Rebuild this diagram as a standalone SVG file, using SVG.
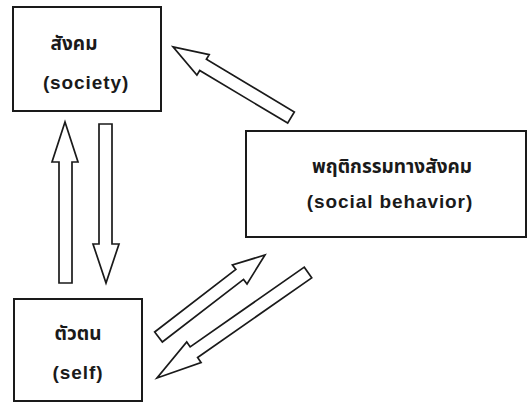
<svg xmlns="http://www.w3.org/2000/svg" width="528" height="403" viewBox="0 0 528 403">
<style>
.box{fill:#fff;stroke:#1a1a1a;stroke-width:2}
.arr{fill:#fff;stroke:#1a1a1a;stroke-width:1.7;stroke-linejoin:miter}
.th{font-family:"Liberation Sans","Noto Sans Thai","Noto Sans",sans-serif;font-weight:bold;font-size:19px;fill:#1a1a1a;text-anchor:middle}
.en{font-family:"Liberation Sans",Arial,sans-serif;font-weight:bold;font-size:19px;letter-spacing:0.9px;fill:#1a1a1a;text-anchor:middle}
</style>
<rect width="528" height="403" fill="#fff"/>
<g id="society">
<rect class="box" x="13" y="7" width="148" height="104"/>
<text class="th" x="74" y="50">สังคม</text>
<text class="en" x="86" y="89">(society)</text>
</g>
<g id="self">
<rect class="box" x="14" y="299" width="128" height="102"/>
<text class="th" x="78" y="340">ตัวตน</text>
<text class="en" x="78" y="379">(self)</text>
</g>
<g id="social-behavior">
<rect class="box" x="246" y="131" width="280" height="106"/>
<text class="th" x="392" y="173">พฤติกรรมทางสังคม</text>
<text class="en" x="390" y="208">(social behavior)</text>
</g>
<g id="connectors">
<polygon class="arr" points="65,122 78,162 72,162 72,283 59,283 59,162 52,162"/>
<polygon class="arr" points="99,124 112,124 112,244 119,244 106,283 93,244 99,244"/>
<polygon class="arr" transform="translate(291,117.5) rotate(-149.1)" points="0,-6.5 102.5,-6.5 102.5,-12 137.5,0 102.5,12 102.5,6.5 0,6.5"/>
<polygon class="arr" transform="translate(158.5,337) rotate(-37.6)" points="0,-6.3 102.5,-6.3 102.5,-12 134.4,0 102.5,12 102.5,6.3 0,6.3"/>
<polygon class="arr" transform="translate(308,272.5) rotate(145.06)" points="0,-6.5 139.2,-6.5 139.2,-12.5 184.2,0 139.2,12.5 139.2,6.5 0,6.5"/>
</g>
</svg>
